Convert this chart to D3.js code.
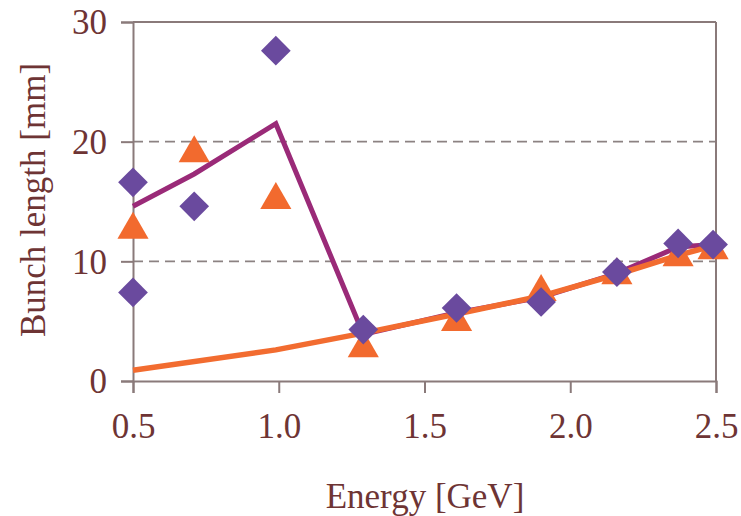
<!DOCTYPE html>
<html>
<head>
<meta charset="utf-8">
<script src="https://cdn.jsdelivr.net/npm/d3@7"></script>
<style>
  html, body { margin: 0; padding: 0; background: #fff; }
  svg { display: block; }
</style>
</head>
<body>
<svg id="chart" width="741" height="516"></svg>
<script>
// ---- data ----
const xTicks = [0.5, 1.0, 1.5, 2.0, 2.5];
const yTicks = [0, 10, 20, 30];
const gridValues = [10, 20];

const diamondEnergy = [0.5, 0.5, 0.71, 0.99, 1.29, 1.61, 1.90, 2.16, 2.37, 2.49];
const diamondLength = [16.6, 7.4, 14.6, 27.6, 4.3, 6.1, 6.6, 9.1, 11.5, 11.4];

const triangleEnergy = [0.5, 0.71, 0.99, 1.29, 1.61, 1.90, 2.16, 2.37, 2.49];
const triangleLength = [12.8, 19.2, 15.3, 2.9, 5.1, 7.6, 9.0, 10.5, 11.1];

const purpleLineEnergy = [0.5, 0.71, 0.99, 1.29, 1.61, 1.90, 2.16, 2.37, 2.49];
const purpleLineLength = [14.6, 17.3, 21.5, 3.9, 5.7, 7.0, 9.0, 11.2, 11.4];

const orangeLineEnergy = [0.5, 0.99, 1.29, 1.61, 1.90, 2.16, 2.37, 2.49];
const orangeLineLength = [0.9, 2.6, 4.0, 5.6, 7.1, 8.9, 10.5, 11.3];

(function () {
// ---- layout ----
const svg = d3.select("#chart");
const mLeft = 133, mRight = 716, mTop = 22, mBottom = 381;
const x = d3.scaleLinear().domain([0.5, 2.5]).range([mLeft, mRight]);
const y = d3.scaleLinear().domain([0, 30]).range([mBottom, mTop]);

const textColor = "#6e3434";
const axisColor = "#8a7a7a";
const font = '"Liberation Serif"';

// grid
svg.append("g").selectAll("line").data(gridValues).join("line")
  .attr("x1", mLeft).attr("x2", mRight)
  .attr("y1", d => y(d)).attr("y2", d => y(d))
  .attr("stroke", "#8c8282").attr("stroke-width", 1.6)
  .attr("stroke-dasharray", "10,6");

// frame top / right
svg.append("line").attr("x1", mLeft).attr("x2", mRight).attr("y1", mTop).attr("y2", mTop)
  .attr("stroke", axisColor).attr("stroke-width", 2);
svg.append("line").attr("x1", mRight).attr("x2", mRight).attr("y1", mTop).attr("y2", mBottom)
  .attr("stroke", axisColor).attr("stroke-width", 2);

// axes
const xAxis = svg.append("g").attr("transform", `translate(0,${mBottom})`)
  .call(d3.axisBottom(x).tickValues(xTicks).tickFormat(d3.format(".1f")).tickSize(12).tickPadding(20));
const yAxis = svg.append("g").attr("transform", `translate(${mLeft},0)`)
  .call(d3.axisLeft(y).tickValues(yTicks).tickFormat(d3.format("d")).tickSize(12).tickPadding(14));
[xAxis, yAxis].forEach(g => {
  g.attr("font-family", null);
  g.select(".domain").attr("stroke", axisColor).attr("stroke-width", 2);
  g.selectAll(".tick line").attr("stroke", axisColor).attr("stroke-width", 2);
  g.selectAll(".tick text").attr("fill", textColor)
    .style("font-family", font).style("font-size", "35px");
});
xAxis.selectAll(".tick text").attr("dy", "0.71em");
yAxis.selectAll(".tick text").attr("dy", "0.34em");

// axis titles
svg.append("text").attr("x", 425).attr("y", 508)
  .attr("text-anchor", "middle").attr("fill", textColor)
  .style("font-family", font).style("font-size", "35px")
  .text("Energy [GeV]");
svg.append("text")
  .attr("transform", "translate(45,200) rotate(-90)")
  .attr("text-anchor", "middle").attr("fill", textColor)
  .style("font-family", font).style("font-size", "35px")
  .text("Bunch length [mm]");

// lines
const line = d3.line().x(d => x(d[0])).y(d => y(d[1]));
svg.append("path")
  .datum(d3.zip(purpleLineEnergy, purpleLineLength))
  .attr("d", line).attr("fill", "none")
  .attr("stroke", "#9a2a78").attr("stroke-width", 5).attr("stroke-linejoin", "miter");
svg.append("path")
  .datum(d3.zip(orangeLineEnergy, orangeLineLength))
  .attr("d", line).attr("fill", "none")
  .attr("stroke", "#f26c30").attr("stroke-width", 5.5);

// markers
const tri = d3.symbol().type(d3.symbolTriangle).size(420);
svg.append("g").selectAll("path")
  .data(d3.zip(triangleEnergy, triangleLength)).join("path")
  .attr("d", tri)
  .attr("transform", d => `translate(${x(d[0])},${y(d[1]) + 2})`)
  .attr("fill", "#f26a2e");

svg.append("g").selectAll("rect")
  .data(d3.zip(diamondEnergy, diamondLength)).join("rect")
  .attr("x", -10.5).attr("y", -10.5).attr("width", 21).attr("height", 21)
  .attr("transform", d => `translate(${x(d[0])},${y(d[1])}) rotate(45)`)
  .attr("fill", "#6a4a9e");
})();
</script>
</body>
</html>
